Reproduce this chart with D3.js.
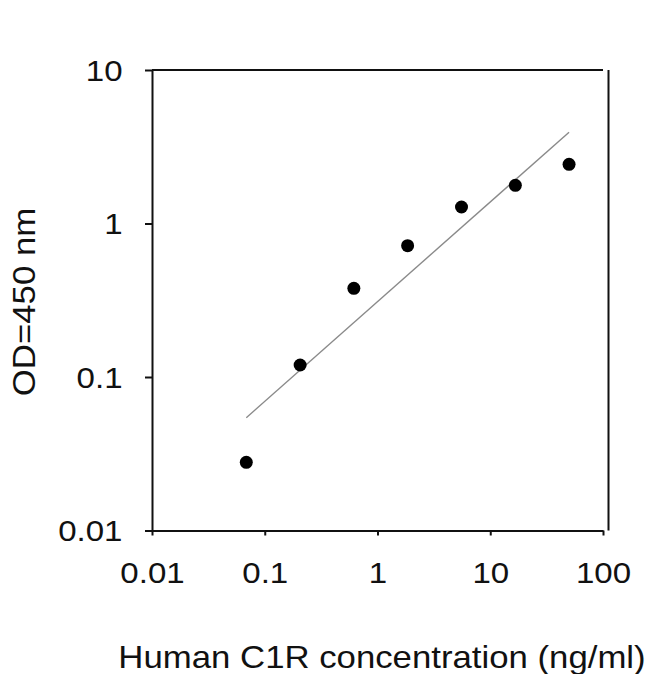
<!DOCTYPE html>
<html>
<head>
<meta charset="utf-8">
<script src="https://cdn.jsdelivr.net/npm/d3@7"></script>
<style>
  body { margin: 0; background: #fff; }
  text { font-family: "Liberation Sans", Arial, sans-serif; fill: #111; }
</style>
</head>
<body>
<div id="container"></div>
<script>
/* DATA */
const concentration = [0.0686, 0.206, 0.617, 1.85, 5.56, 16.7, 50]   // ng/ml
const od450 = [0.0278, 0.1197, 0.378, 0.717, 1.281, 1.774, 2.43]
// fitted line, two ends
const fitX = [0.0686, 50]
const fitY = [0.0543, 3.93]
const xTicks = [0.01, 0.1, 1, 10, 100]
const xTickLabels = ["0.01", "0.1", "1", "10", "100"]
const yTicks = [0.01, 0.1, 1, 10]
const yTickLabels = ["0.01", "0.1", "1", "10"]

/* CONSTANTS AND GLOBALS */
const width = 650,
  height = 674,
  margin = { top: 70, right: 47, bottom: 143.5, left: 152 },
  radius = 6.5,
  stretch = 1.14 // the original lettering is wider than Arial

const svg = d3.select("#container")
  .append("svg")
  .attr("width", width)
  .attr("height", height)

/* SCALES */
const xScale = d3.scaleLog()
  .domain([0.01, 100])
  .range([margin.left, width - margin.right])

const yScale = d3.scaleLog()
  .domain([0.01, 10])
  .range([height - margin.bottom, margin.top])

/* AXES */
const xAxis = d3.axisBottom(xScale)
  .tickValues(xTicks)
  .tickFormat((d, i) => xTickLabels[i])
  .tickSizeInner(5)
  .tickSizeOuter(0)

const yAxis = d3.axisLeft(yScale)
  .tickValues(yTicks)
  .tickFormat((d, i) => yTickLabels[i])
  .tickSizeInner(7)
  .tickSizeOuter(0)

const gx = svg.append("g")
  .attr("transform", `translate(0,${yScale.range()[0]})`)
  .call(xAxis)
gx.selectAll("text")
  .attr("y", 53)
  .attr("dy", "0")
  .attr("font-size", 29)
  .attr("transform", `scale(${stretch},1)`)

const gy = svg.append("g")
  .attr("transform", `translate(${xScale.range()[0]},0)`)
  .call(yAxis)
gy.selectAll("text")
  .attr("x", -29.5 / stretch)
  .attr("dy", "0.36em")
  .attr("font-size", 29)
  .attr("transform", `scale(${stretch},1)`)

svg.selectAll(".domain, .tick line")
  .attr("stroke", "#111")
  .attr("stroke-width", 2)

// top and right edges of the frame
svg.append("line")
  .attr("x1", xScale.range()[0]).attr("x2", xScale.range()[1])
  .attr("y1", yScale.range()[1]).attr("y2", yScale.range()[1])
  .attr("stroke", "#111").attr("stroke-width", 2)
svg.append("line")
  .attr("x1", xScale.range()[1] + 5.5).attr("x2", xScale.range()[1] + 5.5)
  .attr("y1", yScale.range()[1]).attr("y2", yScale.range()[0])
  .attr("stroke", "#111").attr("stroke-width", 2)

/* FIT LINE */
svg.append("path")
  .datum(fitX.map((x, i) => [x, fitY[i]]))
  .attr("fill", "none")
  .attr("stroke", "#8a8a8a")
  .attr("stroke-width", 1.4)
  .attr("d", d3.line().x(d => xScale(d[0])).y(d => yScale(d[1])))

/* POINTS */
svg.selectAll("circle.dot")
  .data(concentration.map((c, i) => ({ c, od: od450[i] })))
  .join("circle")
  .attr("class", "dot")
  .attr("cx", d => xScale(d.c))
  .attr("cy", d => yScale(d.od))
  .attr("r", radius)
  .attr("fill", "#000")

/* TITLES */
svg.append("text")
  .attr("transform", `translate(382,668) scale(${stretch},1)`)
  .attr("text-anchor", "middle")
  .attr("font-size", 30.5)
  .text("Human C1R concentration (ng/ml)")

svg.append("text")
  .attr("transform", `translate(35,302) rotate(-90) scale(${stretch},1)`)
  .attr("text-anchor", "middle")
  .attr("font-size", 30.5)
  .text("OD=450 nm")
</script>
</body>
</html>
